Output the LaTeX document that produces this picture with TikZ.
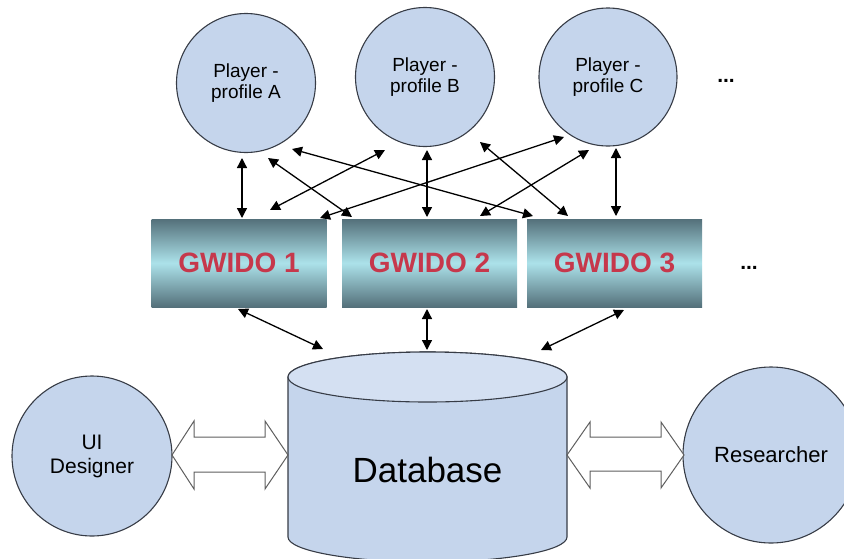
\documentclass[tikz,border=0pt]{standalone}
\usepackage{fontspec}
\setmainfont{Liberation Sans}
\usetikzlibrary{arrows.meta}

\definecolor{circfill}{RGB}{197,213,236}
\definecolor{circline}{RGB}{55,60,70}
\definecolor{dbtop}{RGB}{212,224,242}
\definecolor{boxdark}{RGB}{84,112,122}
\definecolor{boxlight}{RGB}{172,226,234}
\definecolor{gwidored}{RGB}{198,56,76}
\definecolor{blockgray}{RGB}{95,95,95}

\begin{document}
\begin{tikzpicture}[x=1pt,y=-1pt,
  person/.style={circle, draw=circline, line width=1.1pt, fill=circfill,
    align=center, inner sep=0pt},
  gwido/.style={rectangle, minimum width=175pt, minimum height=88pt,
    top color=boxdark, bottom color=boxdark, middle color=boxlight,
    text=gwidored, font=\fontsize{28}{30}\selectfont\bfseries},
  link/.style={{Triangle[length=10pt,width=10pt]}-{Triangle[length=10pt,width=10pt]},
    line width=1.3pt},
  blockarrow/.style={draw=blockgray, fill=white, line width=1pt, line join=miter},
  ptext/.style={font=\fontsize{19}{21}\selectfont},
  rtext/.style={font=\fontsize{21}{24}\selectfont},
  more/.style={font=\fontsize{21}{24}\selectfont\bfseries}]

\useasboundingbox (0,0) rectangle (844,558);

% player profiles
\node[person, minimum size=139pt, ptext] (pA) at (246,83)  {Player -\\profile A};
\node[person, minimum size=139pt, ptext] (pB) at (425,77)  {Player -\\profile B};
\node[person, minimum size=138pt, ptext] (pC) at (608,77)  {Player -\\profile C};
\node[more] (dots1) at (726,81) {...};

% GWIDO instances
\node[gwido] (g1) at (239,263)   {GWIDO 1};
\node[gwido] (g2) at (429.5,263) {GWIDO 2};
\node[gwido] (g3) at (614.5,263) {GWIDO 3};
\node[more] (dots2) at (749,268) {...};

% database cylinder
\path[draw=circline, line width=1.1pt, fill=circfill]
  (288,377) -- (288,537)
  arc[start angle=180, end angle=360, x radius=139.5pt, y radius=25pt]
  -- (567,377)
  arc[start angle=0, end angle=180, x radius=139.5pt, y radius=25pt] -- cycle;
\path[draw=circline, line width=1.1pt, fill=dbtop]
  (427.5,377) ellipse[x radius=139.5pt, y radius=25pt];
\node[font=\fontsize{35}{40}\selectfont] (db) at (427.5,470) {Database};

% users
\node[person, minimum size=160pt, rtext] (ui) at (92,456) {UI\\Designer};
\node[person, minimum size=176pt, font=\fontsize{22}{24}\selectfont] (res) at (771,455) {Researcher};

% arrow end points
\coordinate (a1s) at (242,158); \coordinate (a1e) at (242,218);
\coordinate (a2s) at (268,158); \coordinate (a2e) at (352,217);
\coordinate (a3s) at (292,149); \coordinate (a3e) at (533,216);
\coordinate (a4s) at (385,150); \coordinate (a4e) at (270,210);
\coordinate (a5s) at (564,137); \coordinate (a5e) at (320,218);
\coordinate (a6s) at (427,150); \coordinate (a6e) at (427,217);
\coordinate (a7s) at (480,142); \coordinate (a7e) at (568,216);
\coordinate (a8s) at (589,150); \coordinate (a8e) at (480,216);
\coordinate (a9s) at (616,148); \coordinate (a9e) at (616,216);
\coordinate (b1s) at (238,309); \coordinate (b1e) at (323,349);
\coordinate (b2s) at (427,309); \coordinate (b2e) at (427,350);
\coordinate (b3s) at (624,310); \coordinate (b3e) at (541,350);

% profiles <-> GWIDO
\draw[link] (a1s) -- (a1e);
\draw[link] (a2s) -- (a2e);
\draw[link] (a3s) -- (a3e);
\draw[link] (a4s) -- (a4e);
\draw[link] (a5s) -- (a5e);
\draw[link] (a6s) -- (a6e);
\draw[link] (a7s) -- (a7e);
\draw[link] (a8s) -- (a8e);
\draw[link] (a9s) -- (a9e);

% GWIDO <-> database
\draw[link] (b1s) -- (b1e);
\draw[link] (b2s) -- (b2e);
\draw[link] (b3s) -- (b3e);

% block arrows between users and database
\draw[blockarrow] (172,455) -- (194,421) -- (194,437) -- (265,437) -- (265,421)
  -- (288,455) -- (265,489) -- (265,472) -- (194,472) -- (194,489) -- cycle;
\draw[blockarrow] (567,455) -- (590,422) -- (590,437) -- (661,437) -- (661,422)
  -- (684,455) -- (661,488) -- (661,471) -- (590,471) -- (590,488) -- cycle;

\end{tikzpicture}
\end{document}
